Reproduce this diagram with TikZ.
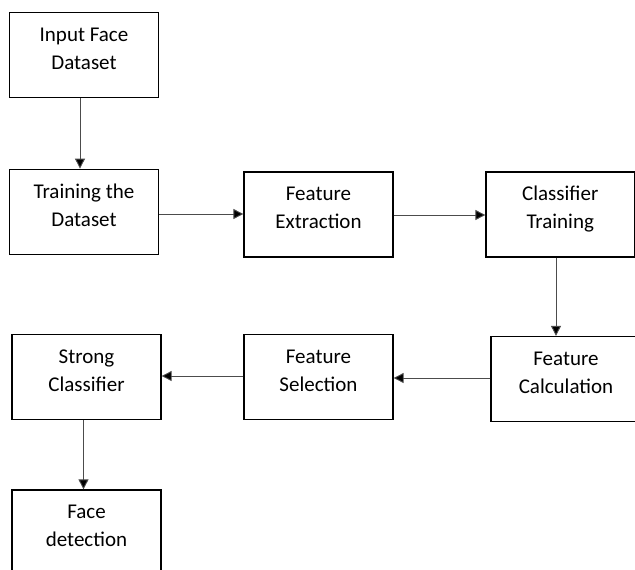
\documentclass[tikz,border=0pt]{standalone}
\usepackage{fontspec}
\setmainfont{Carlito}
\usetikzlibrary{arrows.meta,calc}
\begin{document}
\begin{tikzpicture}[x=1pt,y=-1pt,
  box/.style={draw=black,line width=1.3pt,minimum width=149pt,minimum height=85pt,inner sep=0pt,anchor=center},
  lbl/.style={align=center,inner sep=0pt,font=\fontsize{21}{28}\selectfont},
  arr/.style={draw=black!70,line width=0.9pt,-{Triangle[length=10pt,width=10pt,fill=black]}}]
\useasboundingbox (0,0) rectangle (635,570);
\clip (0,0) rectangle (635,570);
\fill[white] (0,0) rectangle (635,570);
% boxes
\node[box] (b1) at (84,55.25) {};
\node[box] (b2) at (84,211.75) {};
\node[box] (b3) at (318.5,214.5) {};
\node[box,minimum width=148.5pt] (b4) at (560.25,214.5) {};
\node[box,minimum width=150pt] (b5) at (566,379) {};
\node[box] (b6) at (318.5,377) {};
\node[box] (b7) at (86.5,377) {};
\node[box] (b8) at (86.5,532.5) {};
% labels
\node[lbl] (t1) at ($(b1.north)+(0,38)$) {\strut Input Face\\\strut Dataset};
\node[lbl] (t2) at ($(b2.north)+(0,38)$) {\strut Training the\\\strut Dataset};
\node[lbl] (t3) at ($(b3.north)+(0,38)$) {\strut Feature\\\strut Extraction};
\node[lbl] (t4) at ($(b4.north)+(0,38)$) {\strut Classifier\\\strut Training};
\node[lbl] (t5) at ($(b5.north)+(0,38)$) {\strut Feature\\\strut Calculation};
\node[lbl] (t6) at ($(b6.north)+(0,38)$) {\strut Feature\\\strut Selection};
\node[lbl] (t7) at ($(b7.north)+(0,38)$) {\strut Strong\\\strut Classifier};
\node[lbl] (t8) at ($(b8.north)+(0,38)$) {\strut Face\\\strut detection};
% connectors
\draw[arr] (b1.south -| 80,0) -- (b2.north -| 80,0);
\draw[arr] (b2.east |- 0,214) -- (b3.west |- 0,214);
\draw[arr] (b3.east |- 0,215) -- (b4.west |- 0,215);
\draw[arr] (b4.south -| 556,0) -- (b5.north -| 556,0);
\draw[arr] (b5.west |- 0,378) -- (b6.east |- 0,378);
\draw[arr] (b6.west |- 0,376) -- (b7.east |- 0,376);
\draw[arr] (b7.south -| 83.5,0) -- (b8.north -| 83.5,0);
\end{tikzpicture}
\end{document}
